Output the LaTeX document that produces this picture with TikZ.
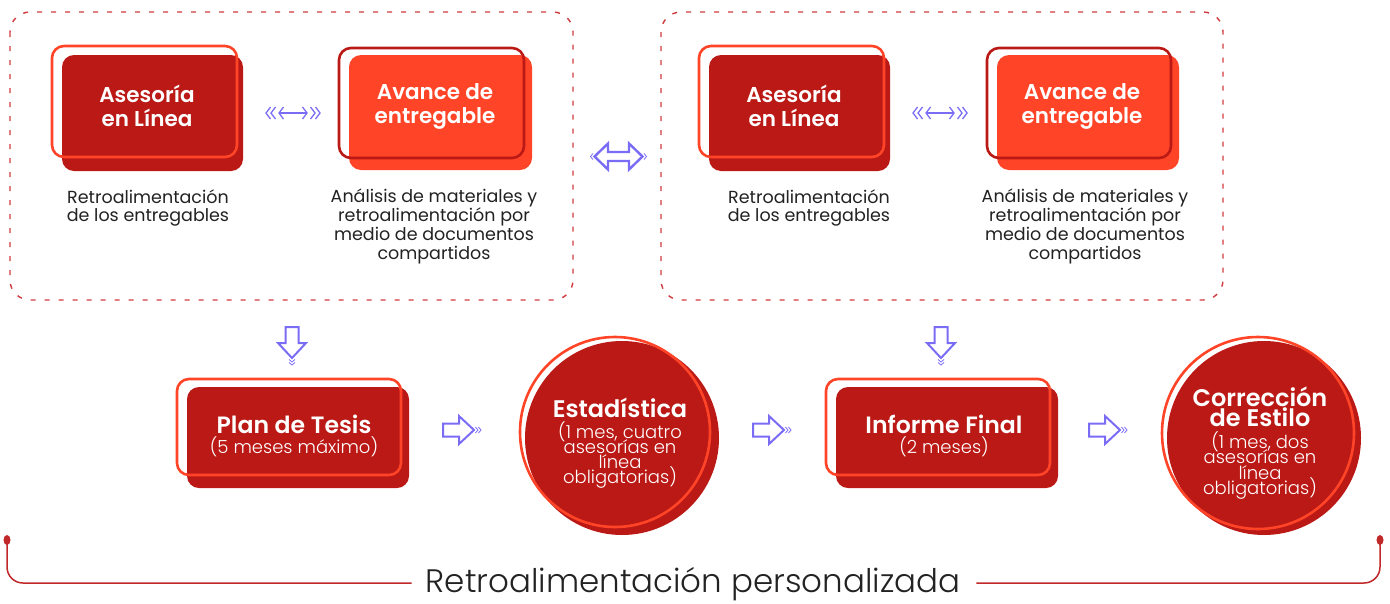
\documentclass[tikz,border=0pt]{standalone}
\usepackage{fontspec}
\setmainfont{Poppins}[BoldFont={Poppins SemiBold}]
\newfontfamily\plight{Poppins Light}
\usetikzlibrary{calc}
\setlength{\lineskiplimit}{-30pt}
\definecolor{dred}{RGB}{187,25,21}
\definecolor{orng}{RGB}{255,68,39}
\definecolor{dashc}{RGB}{209,58,62}
\definecolor{purp}{RGB}{123,108,246}
\definecolor{txt}{RGB}{34,34,34}
\definecolor{brk}{RGB}{192,40,42}
\begin{document}
\begin{tikzpicture}[x=1pt,y=-1pt,
  grp/.style={draw=dashc, line width=1.4pt, dash pattern=on 5pt off 9pt, rounded corners=20pt},
  boxfill/.style={rounded corners=12pt},
  boxline/.style={line width=2.6pt, rounded corners=12pt},
  title/.style={inner sep=0pt, text=white, align=center, font=\bfseries\fontsize{21.5}{24}\selectfont},
  btitle/.style={inner sep=0pt, text=white, align=center, font=\bfseries\fontsize{23.6}{23.6}\selectfont},
  ctitle/.style={inner sep=0pt, text=white, align=center, font=\bfseries\fontsize{24}{20.5}\selectfont},
  sub/.style={inner sep=0pt, text=white, align=center, font=\plight\fontsize{18}{15.3}\selectfont},
  desc/.style={inner sep=0pt, text=txt, align=center, font=\fontsize{17.5}{18.8}\selectfont},
  blockarr/.pic={
    \draw[purp, line width=2pt, line join=miter] (-16,-6.5) -- (0,-6.5) -- (0,-14) -- (15,0) -- (0,14) -- (0,6.5) -- (-16,6.5) -- cycle;
    \draw[purp, line width=0.8pt] (16.5,-3) -- (19,0) -- (16.5,3) (19.5,-3) -- (22,0) -- (19.5,3);
  },
  smalldbl/.pic={
    \draw[purp, line width=1.3pt] (-14,0) -- (14,0);
    \draw[purp, line width=1.3pt] (-9.5,-6) -- (-14,0) -- (-9.5,6) (9.5,-6) -- (14,0) -- (9.5,6);
    \draw[purp, line width=1.3pt] (-17.5,-6) -- (-22,0) -- (-17.5,6) (-22.5,-6) -- (-27,0) -- (-22.5,6);
    \draw[purp, line width=1.3pt] (17.5,-6) -- (22,0) -- (17.5,6) (22.5,-6) -- (27,0) -- (22.5,6);
  },
  bigdbl/.pic={
    \draw[purp, line width=2.4pt, line join=miter] (-24,0) -- (-10.5,-13) -- (-10.5,-4.5) -- (10.5,-4.5) -- (10.5,-13) -- (24,0) -- (10.5,13) -- (10.5,4.5) -- (-10.5,4.5) -- (-10.5,13) -- cycle;
    \draw[purp, line width=0.8pt] (-25.5,-3) -- (-28,0) -- (-25.5,3) (25.5,-3) -- (28,0) -- (25.5,3);
  }
]
\useasboundingbox (0,0) rectangle (1390,603);

% dashed groups
\draw[grp] (10,12) rectangle (573,300);
\draw[grp] (661,12) rectangle (1223,300);

% group 1
\fill[dred, boxfill] (62,55) rectangle (243,171);
\draw[orng, boxline] (52,46) rectangle (237,157);
\node[title] (ase1) at (147,106) {Asesoría\\en Línea};
\fill[orng, boxfill] (349,55) rectangle (532,170);
\draw[dred, boxline] (339,48) rectangle (524,158);
\node[title] (ava1) at (435,106) {Avance de\\entregable};
\node[desc] (d1) at (148,208) {Retroalimentación\\de los entregables};
\node[desc] (d2) at (434,226.5) {Análisis de materiales y\\retroalimentación por\\medio de documentos\\compartidos};
\pic at (293,113) {smalldbl};

% group 2
\fill[dred, boxfill] (709,55) rectangle (890,171);
\draw[orng, boxline] (699,46) rectangle (884,157);
\node[title] (ase2) at (794,106) {Asesoría\\en Línea};
\fill[orng, boxfill] (997,55) rectangle (1179,170);
\draw[dred, boxline] (987,48) rectangle (1171,158);
\node[title] (ava2) at (1082,106) {Avance de\\entregable};
\node[desc] (d3) at (809,208) {Retroalimentación\\de los entregables};
\node[desc] (d4) at (1085,226.5) {Análisis de materiales y\\retroalimentación por\\medio de documentos\\compartidos};
\pic at (940,113) {smalldbl};

% between groups
\pic at (618.5,156.5) {bigdbl};

% down arrows
\pic[rotate=-90] at (292,343) {blockarr};
\pic[rotate=-90] at (941,343) {blockarr};

% Plan de Tesis
\fill[dred, boxfill] (187,387) rectangle (409,488);
\draw[orng, boxline] (177,379) rectangle (401,475);
\node[btitle] (plan) at (294,424) {Plan de Tesis};
\node[sub] (plans) at (294,447) {(5 meses máximo)};

% Estadistica
\fill[dred] (622,438) circle (97pt);
\draw[orng, line width=2.6pt] (615,432) circle (95pt);
\node[ctitle] (est) at (620,408) {Estadística};
\node[sub] (ests) at (620,455) {(1 mes, cuatro\\asesorías en\\línea\\obligatorias)};

% Informe Final
\fill[dred, boxfill] (836,387) rectangle (1058,488);
\draw[orng, boxline] (826,379) rectangle (1050,475);
\node[btitle] (inf) at (944,424) {Informe Final};
\node[sub] (infs) at (944,447) {(2 meses)};

% Correccion de Estilo
\fill[dred] (1264,438) circle (97pt);
\draw[orng, line width=2.6pt] (1258,433) circle (96pt);
\node[ctitle] (cor) at (1260,407) {Corrección\\de Estilo};
\node[sub] (cors) at (1260,465.5) {(1 mes, dos\\asesorías en\\línea\\obligatorias)};

% right arrows
\pic at (459,430) {blockarr};
\pic at (769,430) {blockarr};
\pic at (1105,430) {blockarr};

% bottom bracket
\coordinate (bl) at (7,540);
\coordinate (br) at (1380,540);
\node[inner sep=0pt, text=txt, font=\plight\fontsize{32.5}{32.5}\selectfont] (fb) at (693,584) {Retroalimentación personalizada};
\draw[brk, line width=1.5pt, rounded corners=16pt] (bl) |- ([xshift=-14pt]fb.west |- 0,583);
\draw[brk, line width=1.5pt, rounded corners=16pt] (br) |- ([xshift=16pt]fb.east |- 0,583);
\fill[brk] (bl) ellipse (3.5pt and 5pt);
\fill[brk] (br) ellipse (3.5pt and 5pt);
\end{tikzpicture}
\end{document}
